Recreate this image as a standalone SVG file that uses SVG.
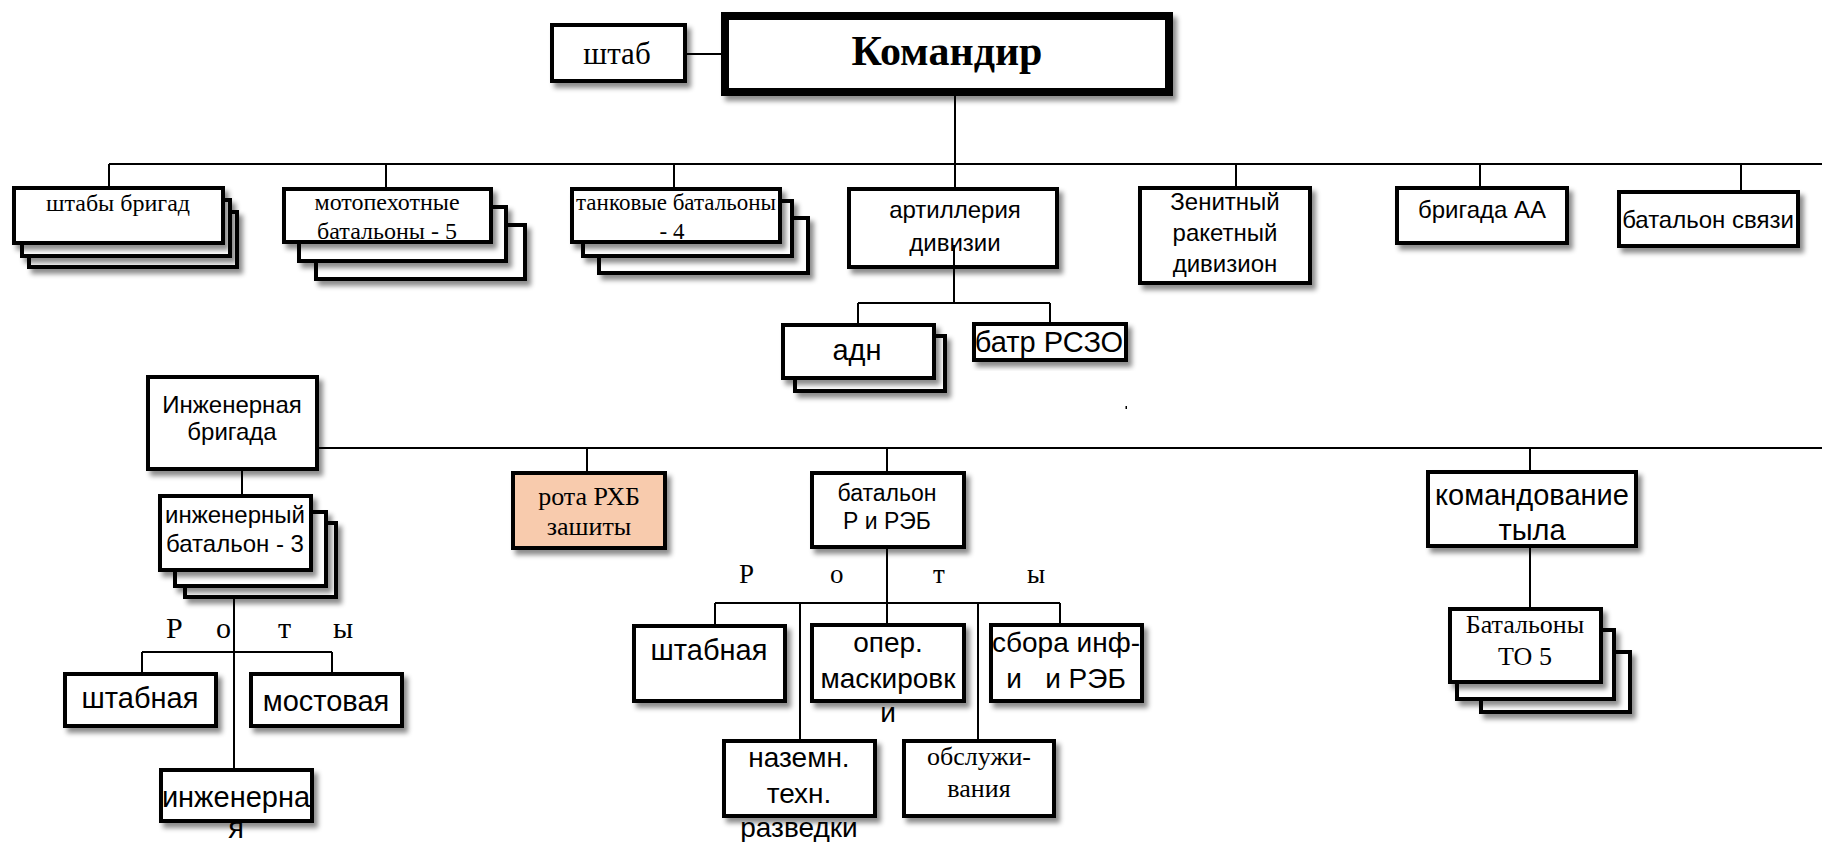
<svg xmlns="http://www.w3.org/2000/svg" width="1822" height="842" viewBox="0 0 1822 842">
<defs>
<filter id="sh" x="-10%" y="-10%" width="130%" height="140%">
<feDropShadow dx="4" dy="5" stdDeviation="2.5" flood-color="#000" flood-opacity="0.45"/>
</filter>
</defs>
<style>
.b{fill:#fff;stroke:#000;stroke-width:4;filter:url(#sh)}
.k{fill:#fff;stroke:#000;stroke-width:8;filter:url(#sh)}
.p{fill:#F8CBAD;stroke:#000;stroke-width:4;filter:url(#sh)}
.s{font-family:"Liberation Serif","Times New Roman",serif;fill:#000;text-anchor:middle}
.a{font-family:"Liberation Sans",Arial,sans-serif;fill:#000;text-anchor:middle}
.r{font-family:"Liberation Serif","Times New Roman",serif;fill:#000}
.c line{stroke:#000;stroke-width:2}
</style>
<rect width="1822" height="842" fill="#fff"/>

<g id="shtab">
<rect class="b" x="552" y="25" width="133" height="56"/>
<text class="s" x="617" y="64" font-size="31">штаб</text>
</g>
<g id="komandir">
<rect class="k" x="725" y="16" width="444" height="76"/>
<text class="s" x="947" y="65" font-size="42" font-weight="bold">Командир</text>
</g>
<g id="shtaby-brigad">
<rect class="b" x="29" y="212" width="208" height="55"/>
<rect class="b" x="22" y="200" width="208" height="56"/>
<rect class="b" x="14" y="188" width="209" height="55"/>
<text class="s" x="118" y="211" font-size="24">штабы бригад</text>
</g>
<g id="motopeh">
<rect class="b" x="316" y="225" width="209" height="54"/>
<rect class="b" x="299" y="207" width="207" height="54"/>
<rect class="b" x="284" y="189" width="207" height="53"/>
<text class="s" x="387" y="210" font-size="24">мотопехотные</text>
<text class="s" x="387" y="239" font-size="24">батальоны - 5</text>
</g>
<g id="tankovye">
<rect class="b" x="599" y="218" width="209" height="55"/>
<rect class="b" x="583" y="201" width="209" height="55"/>
<rect class="b" x="572" y="189" width="208" height="53"/>
<text class="s" x="676" y="210" font-size="23">танковые батальоны</text>
<text class="s" x="672" y="239" font-size="23">- 4</text>
</g>
<g id="artilleriya">
<rect class="b" x="849" y="189" width="208" height="78"/>
<text class="a" x="955" y="218" font-size="24">артиллерия</text>
<text class="a" x="955" y="251" font-size="24">дивизии</text>
</g>
<g id="adn">
<rect class="b" x="795" y="336" width="150" height="55"/>
<rect class="b" x="783" y="325" width="151" height="53"/>
<text class="a" x="857" y="360" font-size="29">адн</text>
</g>
<g id="batr-rszo">
<rect class="b" x="974" y="324" width="152" height="36"/>
<text class="a" x="1049" y="352" font-size="29">батр РСЗО</text>
</g>
<g id="zenitny">
<rect class="b" x="1140" y="188" width="170" height="95"/>
<text class="a" x="1225" y="210" font-size="24">Зенитный</text>
<text class="a" x="1225" y="241" font-size="24">ракетный</text>
<text class="a" x="1225" y="272" font-size="24">дивизион</text>
</g>
<g id="brigada-aa">
<rect class="b" x="1397" y="188" width="170" height="55"/>
<text class="a" x="1482" y="218" font-size="24">бригада АА</text>
</g>
<g id="batalon-svyazi">
<rect class="b" x="1619" y="192" width="179" height="54"/>
<text class="a" x="1708" y="228" font-size="24">батальон связи</text>
</g>
<g id="inzh-brigada">
<rect class="b" x="148" y="377" width="169" height="92"/>
<text class="a" x="232" y="413" font-size="24">Инженерная</text>
<text class="a" x="232" y="440" font-size="24">бригада</text>
</g>
<g id="inzh-batalon">
<rect class="b" x="185" y="523" width="151" height="74"/>
<rect class="b" x="175" y="512" width="151" height="74"/>
<rect class="b" x="160" y="496" width="151" height="74"/>
<text class="a" x="235" y="523" font-size="24">инженерный</text>
<text class="a" x="235" y="552" font-size="24">батальон - 3</text>
</g>
<g id="roty-1">
<text class="r" x="166" y="638" font-size="30">Р</text>
<text class="r" x="216" y="638" font-size="30">о</text>
<text class="r" x="278" y="638" font-size="30">т</text>
<text class="r" x="333" y="638" font-size="30">ы</text>
</g>
<g id="shtabnaya-1">
<rect class="b" x="65" y="674" width="151" height="52"/>
<text class="a" x="140" y="708" font-size="29">штабная</text>
</g>
<g id="mostovaya">
<rect class="b" x="251" y="674" width="151" height="52"/>
<text class="a" x="326" y="711" font-size="29">мостовая</text>
</g>
<g id="inzhenernaya">
<rect class="b" x="161" y="770" width="151" height="51"/>
<text class="a" x="236" y="807" font-size="29">инженерна</text>
<text class="a" x="236" y="838" font-size="29">я</text>
</g>
<g id="rota-rhb">
<rect class="p" x="513" y="473" width="152" height="75"/>
<text class="s" x="589" y="505" font-size="26">рота РХБ</text>
<text class="s" x="589" y="535" font-size="26">зашиты</text>
</g>
<g id="batalon-reb">
<rect class="b" x="812" y="473" width="152" height="74"/>
<text class="a" x="887" y="501" font-size="23">батальон</text>
<text class="a" x="887" y="529" font-size="23">Р и РЭБ</text>
</g>
<g id="roty-2">
<text class="r" x="739" y="583" font-size="27">Р</text>
<text class="r" x="830" y="583" font-size="27">о</text>
<text class="r" x="933" y="583" font-size="27">т</text>
<text class="r" x="1027" y="583" font-size="27">ы</text>
</g>
<g id="shtabnaya-2">
<rect class="b" x="634" y="626" width="151" height="75"/>
<text class="a" x="709" y="660" font-size="29">штабная</text>
</g>
<g id="oper-mask">
<rect class="b" x="812" y="625" width="152" height="76"/>
<text class="a" x="888" y="652" font-size="28">опер.</text>
<text class="a" x="888" y="688" font-size="28">маскировк</text>
<text class="a" x="888" y="722" font-size="28">и</text>
</g>
<g id="sbora-inf">
<rect class="b" x="991" y="625" width="151" height="76"/>
<text class="a" x="1066" y="652" font-size="28">сбора инф-</text>
<text class="a" x="1066" y="688" font-size="28" xml:space="preserve">и   и РЭБ</text>
</g>
<g id="nazemn">
<rect class="b" x="724" y="741" width="151" height="75"/>
<text class="a" x="799" y="767" font-size="28">наземн.</text>
<text class="a" x="799" y="803" font-size="28">техн.</text>
<text class="a" x="799" y="837" font-size="28">разведки</text>
</g>
<g id="obsluzhivaniya">
<rect class="b" x="904" y="741" width="150" height="75"/>
<text class="s" x="979" y="765" font-size="26">обслужи-</text>
<text class="s" x="979" y="797" font-size="26">вания</text>
</g>
<g id="komandovanie-tyla">
<rect class="b" x="1428" y="472" width="208" height="74"/>
<text class="a" x="1532" y="505" font-size="29">командование</text>
<text class="a" x="1532" y="540" font-size="29">тыла</text>
</g>
<g id="batalony-to">
<rect class="b" x="1481" y="652" width="149" height="60"/>
<rect class="b" x="1457" y="630" width="157" height="69"/>
<rect class="b" x="1450" y="609" width="151" height="73"/>
<text class="s" x="1525" y="633" font-size="26">Батальоны</text>
<text class="s" x="1525" y="665" font-size="26">ТО 5</text>
</g>

<g id="connectors" class="c">
<line x1="687" y1="54" x2="721" y2="54"/>
<line x1="955" y1="96" x2="955" y2="187"/>
<line x1="109" y1="164" x2="1822" y2="164"/>
<line x1="109" y1="164" x2="109" y2="186"/>
<line x1="386" y1="164" x2="386" y2="187"/>
<line x1="674" y1="164" x2="674" y2="187"/>
<line x1="1236" y1="164" x2="1236" y2="186"/>
<line x1="1480" y1="164" x2="1480" y2="186"/>
<line x1="1741" y1="164" x2="1741" y2="190"/>
<line x1="954" y1="245" x2="954" y2="303"/>
<line x1="858" y1="303" x2="1050" y2="303"/>
<line x1="858" y1="303" x2="858" y2="323"/>
<line x1="1050" y1="303" x2="1050" y2="322"/>
<line x1="319" y1="448" x2="1822" y2="448"/>
<line x1="242" y1="471" x2="242" y2="494"/>
<line x1="234" y1="599" x2="234" y2="768"/>
<line x1="142" y1="652" x2="332" y2="652"/>
<line x1="142" y1="652" x2="142" y2="672"/>
<line x1="332" y1="652" x2="332" y2="672"/>
<line x1="587" y1="448" x2="587" y2="471"/>
<line x1="887" y1="448" x2="887" y2="471"/>
<line x1="887" y1="549" x2="887" y2="623"/>
<line x1="715" y1="603" x2="1060" y2="603"/>
<line x1="715" y1="603" x2="715" y2="624"/>
<line x1="1060" y1="603" x2="1060" y2="623"/>
<line x1="800" y1="603" x2="800" y2="739"/>
<line x1="978" y1="603" x2="978" y2="739"/>
<line x1="1530" y1="448" x2="1530" y2="470"/>
<line x1="1530" y1="548" x2="1530" y2="607"/>
</g>
<rect x="1125.5" y="406" width="1.5" height="3" fill="#000"/>
</svg>
